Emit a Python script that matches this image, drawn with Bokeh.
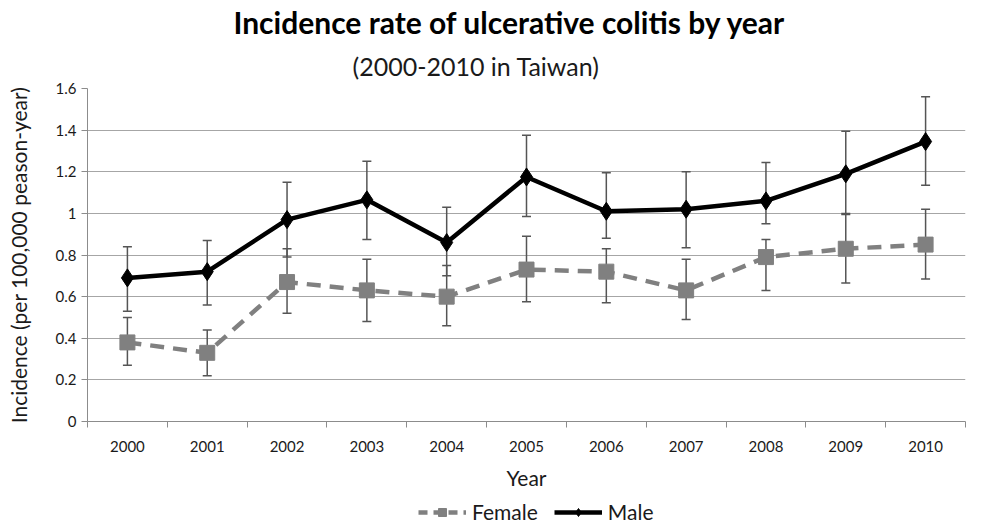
from bokeh.plotting import figure
from bokeh.layouts import column
from bokeh.models import (ColumnDataSource, Whisker, TeeHead, Title, Legend, LegendItem,
                          FixedTicker)
from bokeh.embed import file_html
from bokeh.resources import INLINE

years = [2000, 2001, 2002, 2003, 2004, 2005, 2006, 2007, 2008, 2009, 2010]
female = [0.38, 0.33, 0.67, 0.63, 0.60, 0.73, 0.72, 0.63, 0.79, 0.83, 0.85]
female_lo = [0.27, 0.22, 0.52, 0.48, 0.46, 0.575, 0.57, 0.49, 0.63, 0.665, 0.685]
female_hi = [0.50, 0.44, 0.83, 0.78, 0.75, 0.89, 0.83, 0.78, 0.875, 1.00, 1.02]
male = [0.69, 0.72, 0.97, 1.065, 0.86, 1.175, 1.01, 1.02, 1.06, 1.19, 1.345]
male_lo = [0.53, 0.56, 0.79, 0.875, 0.70, 0.985, 0.88, 0.835, 0.95, 0.995, 1.135]
male_hi = [0.84, 0.87, 1.15, 1.25, 1.03, 1.375, 1.195, 1.20, 1.245, 1.395, 1.56]
y_ticks = [0, 0.2, 0.4, 0.6, 0.8, 1.0, 1.2, 1.4, 1.6]
series_labels = ["Female", "Male"]

FONT = "Lato"
TXT = "#1a1a1a"
F_COL = "#808080"
M_COL = "black"
F_DASH = "14 9"
NAN = float("nan")

src = ColumnDataSource(dict(x=years, f=female, flo=female_lo, fhi=female_hi,
                            m=male, mlo=male_lo, mhi=male_hi))

p = figure(width=981, height=500, output_backend="svg", toolbar_location=None,
           x_range=(years[0] - 0.5, years[-1] + 0.5), y_range=(0, 1.6),
           min_border_left=87, min_border_right=16, min_border_top=84,
           min_border_bottom=79)
p.outline_line_color = None
p.background_fill_color = "white"
p.border_fill_color = "white"

# error bars
for lo, hi in (("flo", "fhi"), ("mlo", "mhi")):
    w = Whisker(source=src, base="x", lower=lo, upper=hi, line_color="#555555",
                line_width=1.5,
                upper_head=TeeHead(size=9, line_color="#555555", line_width=1.5),
                lower_head=TeeHead(size=9, line_color="#555555", line_width=1.5))
    p.add_layout(w)

p.line("x", "f", source=src, line_color=F_COL, line_width=4.5, line_dash=F_DASH)
p.scatter("x", "f", source=src, marker="square", size=15,
          fill_color=F_COL, line_color=F_COL)
p.line("x", "m", source=src, line_color=M_COL, line_width=4.5)
p.scatter("x", "m", source=src, marker="diamond", size=18,
          fill_color=M_COL, line_color=M_COL)

# axes
p.xaxis.ticker = FixedTicker(ticks=years,
                             minor_ticks=[y - 0.5 for y in years] + [years[-1] + 0.5])
p.xaxis.major_tick_out = 0
p.xaxis.major_tick_in = 0
p.xaxis.minor_tick_out = 6
p.xaxis.minor_tick_in = 0
p.xaxis.minor_tick_line_color = "#8c8c8c"
p.xaxis.axis_line_color = "#8c8c8c"
p.xaxis.major_label_standoff = 13
p.xaxis.axis_label = "Year"
p.xaxis.axis_label_standoff = 10

p.yaxis.ticker = FixedTicker(ticks=y_ticks)
p.yaxis.major_label_overrides = {t: (f"{t:g}") for t in y_ticks}
p.yaxis.major_tick_out = 6
p.yaxis.major_tick_in = 0
p.yaxis.minor_tick_line_color = None
p.yaxis.major_tick_line_color = "#8c8c8c"
p.yaxis.axis_line_color = "#8c8c8c"
p.yaxis.axis_label = "Incidence (per 100,000 peason-year)"
p.yaxis.axis_label_standoff = 22

for ax in (p.xaxis[0], p.yaxis[0]):
    ax.major_label_text_font = FONT
    ax.major_label_text_font_size = "15px"
    ax.major_label_text_color = TXT
    ax.axis_label_text_font = FONT
    ax.axis_label_text_font_style = "normal"
    ax.axis_label_text_color = TXT
p.xaxis.axis_label_text_font_size = "21px"
p.yaxis.axis_label_text_font_size = "21px"

p.xgrid.grid_line_color = None
p.ygrid.ticker = FixedTicker(ticks=y_ticks)
p.ygrid.grid_line_color = "#a6a6a6"
p.ygrid.grid_line_width = 1.2

# titles
p.add_layout(Title(text="(2000-2010 in Taiwan)", align="left", offset=265,
                   text_font=FONT, text_font_size="25px", text_font_style="normal",
                   text_color=TXT, standoff=16), "above")
p.add_layout(Title(text="Incidence rate of ulcerative colitis by year", align="left",
                   offset=146, text_font=FONT, text_font_size="30px",
                   text_font_style="bold", text_color="black", standoff=2), "above")

# legend strip below the chart (its frame is aligned with the chart's frame)
lg = figure(width=981, height=26, output_backend="svg", toolbar_location=None,
            x_range=(0, 1), y_range=(0, 1),
            x_axis_location=None, y_axis_location=None,
            min_border_left=87, min_border_right=16, min_border_top=0,
            min_border_bottom=0)
lg.outline_line_color = None
lg.grid.grid_line_color = None
lf_l = lg.line([NAN], [NAN], line_color=F_COL, line_width=4.5, line_dash="9 6")
lf_s = lg.scatter([NAN], [NAN], marker="square", size=15, fill_color=F_COL,
                  line_color=F_COL)
lm_l = lg.line([NAN], [NAN], line_color=M_COL, line_width=4.5)
lm_s = lg.scatter([NAN], [NAN], marker="diamond", size=16, fill_color=M_COL,
                  line_color=M_COL)
legend = Legend(items=[LegendItem(label=series_labels[0], renderers=[lf_l, lf_s]),
                       LegendItem(label=series_labels[1], renderers=[lm_l, lm_s])],
                orientation="horizontal", location=(331, 2),
                label_text_font=FONT, label_text_font_size="21px",
                label_text_color=TXT, border_line_color=None,
                background_fill_alpha=0, glyph_width=48, glyph_height=20,
                spacing=16, label_standoff=6, padding=0, margin=0)
lg.add_layout(legend, "center")

open("out.html", "w").write(file_html(column(p, lg, spacing=0), INLINE))
